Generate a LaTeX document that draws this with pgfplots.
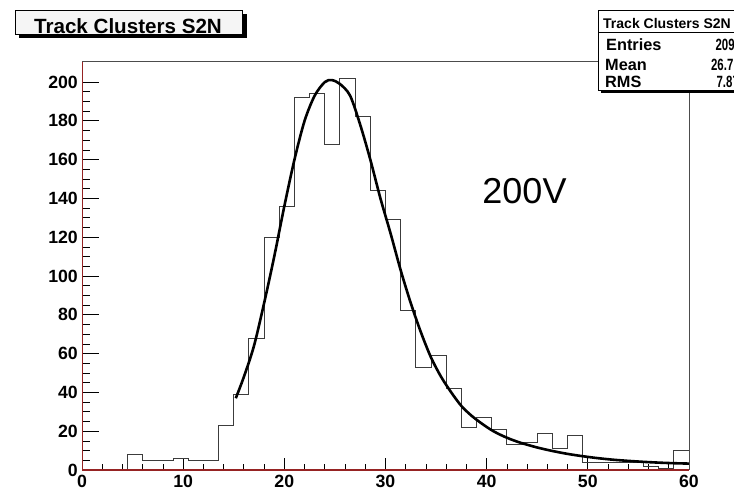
\documentclass[border=0pt]{standalone}
\usepackage{pgfplots}
\pgfplotsset{compat=1.18}
\usepackage{fontspec}
\setmainfont{Liberation Sans}
\definecolor{axisred}{RGB}{150,35,35}
\definecolor{histline}{RGB}{60,60,60}

\pgfplotsset{
  frameaxis/.style={
    scale only axis, width=607pt, height=408.3pt,
    at={(82pt,19pt)}, anchor=south west,
    xmin=0, xmax=60, ymin=0, ymax=210.5,
    axis line style={draw=none},
    tick align=inside, tick pos=left,
    tick style={black, line width=0.8pt},
    ticklabel style={font=\bfseries\fontsize{17.7}{20}\selectfont, inner sep=0pt},
    /pgf/number format/assume math mode=true,
    clip=false,
  },
}

\begin{document}
\begin{tikzpicture}[x=1pt,y=1pt]
\useasboundingbox (0,0) rectangle (734,489);
% vertical scale: longer ticks on the y axis
\begin{axis}[
  frameaxis,
  xtick=\empty, ytick={0,20,...,200}, minor y tick num=3,
  major tick length=17pt, minor tick length=8pt,
  yticklabel style={anchor=east, xshift=-4pt},
]
\end{axis}
\begin{axis}[
  frameaxis,
  ytick=\empty,
  xtick={0,10,...,60}, minor x tick num=4,
  major tick length=11.5pt, minor tick length=6pt,
  xticklabel style={anchor=north, yshift=-4.5pt},
]
% histogram contents, bin width 1.5
\addplot[const plot, histline, line width=1pt] coordinates {
  (0,0) (1.5,0) (3,0) (4.5,8) (6,5) (7.5,5) (9,6) (10.5,5) (12,5)
  (13.5,23) (15,39) (16.5,68) (18,120) (19.5,136) (21,192) (22.5,194)
  (24,168) (25.5,202) (27,182) (28.5,144) (30,129) (31.5,82) (33,53)
  (34.5,59) (36,42) (37.5,22) (39,27) (40.5,21) (42,13) (43.5,14)
  (45,19) (46.5,11) (48,18) (49.5,4) (51,4) (52.5,4) (54,4) (55.5,2)
  (57,1) (58.5,10) (60,10)
};
% fitted curve
\addplot[smooth, black, line width=2.6pt] coordinates {
  (15.2,37) (16,48) (17,64) (18,86) (19,110) (20,136) (21,160) (22,180)
  (23,193) (24,200) (24.7,201) (25.5,199) (26.5,193) (27.5,178) (28.5,160)
  (29.5,140) (30.5,122) (31.5,103) (32.5,86) (33.5,71) (34.5,58) (35.5,48)
  (36.5,40) (37.5,33) (38.5,28) (39.5,24) (40.5,20.5) (41.5,17.8) (42.5,15.6)
  (43.5,13.8) (45,11.6) (46.5,9.8) (48,8.3) (49.5,7.1) (51,6.1) (52.5,5.3)
  (54,4.7) (55.5,4.2) (57,3.8) (58.5,3.5) (60,3.3)
};
% frame
\draw[black!70, line width=0.8pt] (rel axis cs:0,1) -- (rel axis cs:1,1) -- (rel axis cs:1,0);
\draw[axisred, line width=1pt] (rel axis cs:0,0) -- (rel axis cs:0,1);
\draw[axisred, line width=1.3pt] (rel axis cs:0,0) -- (rel axis cs:1,0);
\end{axis}

% title box
\fill[black] (19,451) rectangle (246.7,475);
\filldraw[fill=gray!8, draw=black, line width=0.8pt] (15,454.7) rectangle (242.7,479);
\node[anchor=base, inner sep=0pt, font=\bfseries\fontsize{20.6}{24}\selectfont] at (128,455.9) {Track Clusters S2N};

% statistics box
\fill[black] (601,396) rectangle (770,476);
\filldraw[fill=white, draw=black, line width=0.8pt] (598,399) rectangle (767,479);
\draw[black, line width=0.8pt] (598,457) -- (767,457);
\node[anchor=base west, inner sep=0pt, font=\bfseries\fontsize{14}{16}\selectfont] at (603,460.7) {Track Clusters S2N};
\begin{scope}[every node/.style={anchor=base west, inner sep=0pt, font=\bfseries\fontsize{16.3}{18}\selectfont}]
\node at (606,438.3) {Entries};
\node at (605,418.3) {Mean};
\node at (605,401.7) {RMS};
\end{scope}
\begin{scope}[every node/.style={anchor=base west, inner sep=0pt, xscale=0.7, font=\bfseries\fontsize{16.3}{18}\selectfont}]
\node at (715.5,438.3) {209};
\node at (711,418.3) {26.7};
\node at (716.5,401.7) {7.87};
\end{scope}

% voltage annotation
\node[anchor=base, inner sep=0pt, font=\fontsize{36}{40}\selectfont] at (524.5,285.7) {200V};
\end{tikzpicture}
\end{document}
